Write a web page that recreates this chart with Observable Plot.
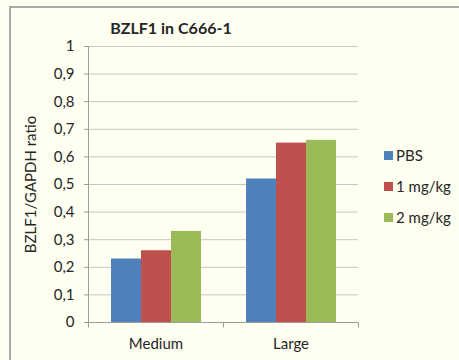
<!DOCTYPE html>
<html>
<head>
<meta charset="utf-8">
<script src="https://cdn.jsdelivr.net/npm/d3@7"></script>
<script src="https://cdn.jsdelivr.net/npm/@observablehq/plot@0.6"></script>
<style>
  html, body { margin: 0; padding: 0; background: #fffff2; }
  #chart { position: relative; width: 459px; height: 360px; overflow: hidden; background: #fffff2; }
  #border { position: absolute; left: 9px; top: 6px; width: 480px; height: 400px;
            border-left: 2px solid #a9a9a9; border-top: 2px solid #a9a9a9; }
  #chart svg { position: absolute; left: 0; top: 0; }
</style>
</head>
<body>
<div id="chart"><div id="border"></div></div>
<script>
// Tumour size groups and treatment series
const groups = ["Medium", "Large"];
const series = ["PBS", "1 mg/kg", "2 mg/kg"];
// BZLF1/GAPDH ratio per series, one value per group
const pbs = [0.23, 0.52];
const dose1 = [0.26, 0.65];
const dose2 = [0.33, 0.66];
const yTicks = [0, 0.1, 0.2, 0.3, 0.4, 0.5, 0.6, 0.7, 0.8, 0.9, 1];

const colors = ["#4f81bd", "#c0504d", "#9bbb59"];
const textColor = "#262626";
const font = "Lato, sans-serif";

const rows = [];
[pbs, dose1, dose2].forEach((vals, i) =>
  groups.forEach((g, j) => rows.push({group: g, series: series[i], value: vals[j]}))
);

const commaFormat = d => d === 0 || d === 1 ? String(d) : d3.format(".1f")(d).replace(".", ",");

const plot = Plot.plot({
  width: 459,
  height: 360,
  marginLeft: 88,
  marginRight: 101,
  marginTop: 46,
  marginBottom: 38,
  style: {background: "transparent", fontFamily: font, fontSize: "15px", color: textColor},
  fx: {domain: groups, padding: 0, label: null, axis: null},
  x: {domain: series, paddingInner: 0, paddingOuter: 0.75, axis: null},
  y: {domain: [0, 1], axis: null},
  color: {domain: series, range: colors},
  marks: [
    Plot.gridY(yTicks, {stroke: "#c6c6c6", strokeOpacity: 1}),
    Plot.barY(rows, {fx: "group", x: "series", y: "value", fill: "series"}),
    Plot.axisY(yTicks, {
      tickFormat: commaFormat, tickSize: 4, tickPadding: 10,
      stroke: "#9c9c9c", fill: textColor,
      label: "BZLF1/GAPDH ratio", labelAnchor: "center", labelArrow: "none", labelOffset: 63
    }),
    Plot.axisFx({anchor: "bottom", tickSize: 0, tickPadding: 16, label: null, fill: textColor})
  ]
});

const svg = d3.select(plot);
const fx = plot.scale("fx");
const y = plot.scale("y");
const y0 = Math.round(y.apply(0)) + 0.5;
const y1 = Math.round(y.apply(1));
const xLeft = Math.round(fx.apply(groups[0])) + 0.5;
const xRight = Math.round(fx.apply(groups[groups.length - 1]) + fx.bandwidth) + 0.5;

// Axis lines and category boundary ticks
const axes = svg.append("g").attr("stroke", "#9c9c9c").attr("fill", "none");
axes.append("line").attr("x1", xLeft).attr("x2", xLeft).attr("y1", y1).attr("y2", y0);
axes.append("line").attr("x1", xLeft).attr("x2", xRight).attr("y1", y0).attr("y2", y0);
const bounds = groups.map(g => fx.apply(g)).concat([fx.apply(groups[groups.length - 1]) + fx.bandwidth]);
bounds.forEach(bx => {
  const px = Math.round(bx) + 0.5;
  axes.append("line").attr("x1", px).attr("x2", px).attr("y1", y0).attr("y2", y0 + 5);
});

// Title
svg.append("text")
  .attr("x", 171).attr("y", 34)
  .attr("text-anchor", "middle")
  .attr("font-family", font).attr("font-weight", "bold").attr("font-size", 16)
  .attr("fill", textColor)
  .text("BZLF1 in C666-1");

// Legend
const legend = svg.append("g")
  .attr("font-family", font).attr("font-size", 15).attr("fill", textColor)
  .attr("text-anchor", "start");
series.forEach((s, i) => {
  const item = legend.append("g").attr("transform", `translate(384,${151 + i * 31})`);
  item.append("rect").attr("width", 9).attr("height", 9).attr("fill", plot.scale("color").apply(s));
  item.append("text").attr("x", 12).attr("y", 9.5).text(s);
});

document.getElementById("chart").appendChild(plot);
</script>
</body>
</html>
